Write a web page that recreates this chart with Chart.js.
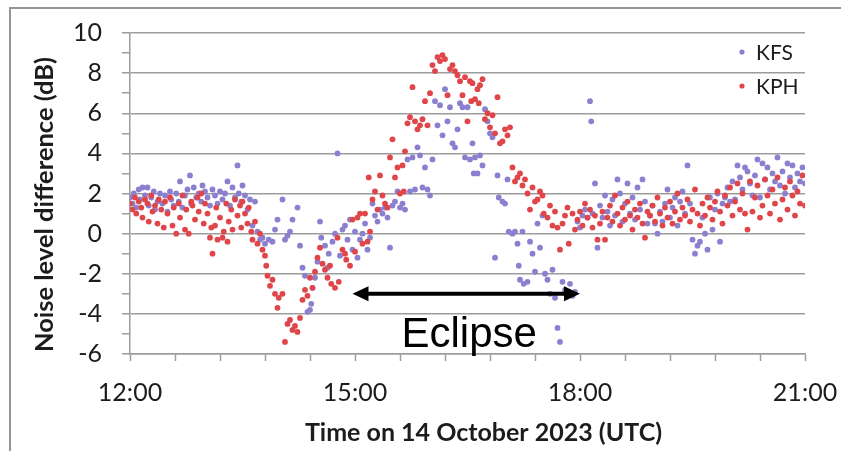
<!DOCTYPE html>
<html>

<head>
    <meta charset="UTF-8">
    <title>Noise level difference</title>
    <style>
        html, body {
            margin: 0;
            padding: 0;
            background: #fff;
        }
    </style>
</head>

<body>
    <canvas id="noiseChart" width="841" height="451"></canvas>
    <script src="https://cdn.jsdelivr.net/npm/chart.js"></script>

    <script>
        // [minutes after 12:00 UTC, noise level difference in dB]
        const kfsPoints = [
            [0, 1.8], [2, 1.5], [3, 2.0], [5, 1.3], [7, 2.2], [8, 1.7], [10, 2.3], [12, 1.9], [14, 2.3], [15, 1.4],
            [17, 1.8], [19, 2.1], [20, 1.2], [22, 1.6], [24, 2.0], [26, 1.5], [28, 1.9], [30, 1.1], [32, 2.1], [33, 1.7],
            [35, 1.4], [37, 2.0], [39, 1.6], [40, 2.6], [42, 1.3], [44, 1.9], [46, 2.2], [48, 2.9], [49, 1.5], [51, 2.3],
            [53, 1.8], [55, 2.0], [57, 1.6], [58, 2.4], [60, 2.1], [62, 1.8], [64, 1.4], [66, 2.2], [68, 1.9], [70, 1.5],
            [72, 2.1], [74, 1.7], [76, 2.0], [78, 2.6], [80, 1.4], [82, 2.3], [84, 1.8], [86, 3.4], [87, 2.0], [89, 1.6],
            [90, 2.4], [92, 1.9], [94, 1.2], [96, 1.7], [98, 0.4], [100, 1.6], [102, 0.1], [104, -0.3], [106, -0.2], [108, -0.5],
            [111, -0.3], [114, -0.4], [116, 0.2], [118, 0.7], [122, 1.7], [124, -0.3], [126, -0.1], [128, 0.1], [130, 0.7], [134, 1.3],
            [136, -0.6], [138, -1.7], [140, -2.1], [142, -3.9], [144, -3.8], [145, -3.5], [146, -2.7], [148, -2.2], [150, -1.4], [152, 0.6],
            [153, -0.2], [156, -0.6], [158, -1.7], [159, -1.0], [162, -0.4], [164, 0.0], [166, 4.0], [168, -1.1], [170, 0.2], [172, 0.4],
            [174, -0.3], [176, 0.7], [178, -0.8], [180, 0.1], [182, -1.2], [184, -0.3], [186, 0.0], [188, 0.5], [190, -0.8], [192, -0.2],
            [194, 1.5], [196, 0.9], [198, 0.6], [200, 1.2], [202, 1.0], [204, 1.3], [206, 0.8], [208, -0.7], [210, 1.4], [212, 1.6],
            [214, 2.1], [216, 1.3], [218, 1.5], [220, 1.2], [222, 3.7], [224, 2.1], [226, 3.8], [228, 2.2], [230, 4.3], [232, 3.9],
            [234, 2.3], [236, 3.3], [238, 2.2], [240, 1.9], [242, 3.7], [244, 6.6], [246, 5.4], [248, 6.4], [250, 4.9], [252, 7.2],
            [254, 5.6], [256, 6.3], [258, 4.5], [260, 4.3], [262, 5.2], [264, 6.5], [266, 6.3], [268, 3.8], [270, 6.3], [272, 3.7],
            [274, 4.5], [275, 3.0], [276, 3.8], [278, 3.0], [280, 3.9], [282, 3.4], [284, 6.2], [286, 5.6], [288, 5.0], [290, 4.8],
            [292, -1.2], [294, 2.9], [295, 1.8], [298, 1.6], [300, 1.5], [302, 2.7], [303, 0.1], [306, 0.0], [308, 0.1], [310, -0.5],
            [311, -1.6], [312, -2.3], [314, 0.1], [315, -2.5], [318, -2.4], [320, -0.4], [322, -1.0], [324, -1.9], [326, 0.5], [328, -0.7],
            [330, 0.9], [332, -2.0], [334, -2.3], [336, -3.0], [338, -1.8], [340, -3.2], [342, -4.7], [344, -5.4], [346, -2.4], [348, -2.8],
            [350, -3.1], [352, -2.5], [354, -3.1], [356, -2.9], [358, 0.6], [360, 0.3], [362, 0.9], [364, 1.2], [366, 0.8], [368, 6.6],
            [369, 5.6], [370, 1.0], [372, 2.5], [374, -0.7], [376, 1.4], [378, 0.8], [380, 1.9], [382, 1.1], [384, 0.4], [386, 1.7],
            [388, 0.9], [390, 2.7], [392, 2.0], [394, 0.6], [396, 1.5], [398, 2.5], [400, 1.0], [402, 1.8], [404, 0.7], [406, 2.3],
            [408, 1.2], [410, 2.7], [412, 1.6], [414, 0.5], [416, 0.9], [418, 1.4], [420, 0.5], [422, 0.0], [424, 1.1], [426, 0.6],
            [428, 1.5], [430, 2.2], [432, 0.8], [434, 1.3], [436, 1.8], [438, 0.4], [440, 1.6], [442, 2.1], [444, 1.0], [446, 3.4],
            [448, 1.5], [450, -0.3], [452, -1.0], [454, -0.6], [456, -0.4], [458, 0.8], [460, 0.0], [462, -0.8], [464, 1.8], [466, 0.2],
            [468, 1.2], [470, 2.0], [472, -0.4], [474, 1.5], [476, 1.8], [478, 2.3], [480, 1.6], [482, 2.6], [484, 1.7], [486, 3.4],
            [488, 2.8], [490, 2.2], [492, 3.3], [494, 3.1], [496, 2.5], [498, 1.9], [500, 2.9], [502, 3.7], [504, 1.8], [506, 3.5],
            [508, 2.7], [510, 3.3], [512, 2.2], [514, 3.0], [516, 2.6], [518, 3.8], [520, 2.4], [522, 3.1], [524, 2.0], [526, 3.5],
            [528, 2.8], [530, 3.4], [532, 2.3], [534, 3.0], [536, 2.6], [538, 3.3], [540, 2.5]
        ];

        const kphPoints = [
            [0, 1.5], [2, 1.2], [4, 1.8], [5, 1.0], [7, 1.6], [9, 1.3], [10, 0.8], [12, 1.7], [14, 1.5], [15, 0.6],
            [17, 1.9], [18, 1.1], [20, 1.4], [22, 0.5], [23, 1.7], [25, 1.2], [27, 0.3], [28, 1.6], [30, 1.0], [32, 1.8],
            [34, 0.4], [35, 1.3], [37, 0.0], [39, 1.5], [40, 0.8], [42, 1.9], [44, 0.2], [45, 1.2], [47, 0.0], [49, 1.6],
            [50, 1.4], [52, 0.7], [54, 1.8], [55, 1.1], [57, 2.0], [59, 0.5], [60, 1.5], [62, 1.0], [64, -0.2], [65, 0.3],
            [66, -1.0], [68, 0.4], [69, 1.3], [70, -0.3], [72, 0.8], [74, -0.2], [75, 0.1], [77, 1.5], [78, -0.4], [79, 0.6],
            [81, 1.2], [82, 0.2], [84, 1.7], [86, 0.9], [88, 1.4], [89, 0.3], [90, 1.6], [92, 1.0], [94, 0.5], [95, 1.3],
            [97, 0.1], [98, -0.3], [100, 0.6], [102, -0.5], [104, 0.0], [106, -0.8], [108, -1.1], [109, -1.6], [110, -2.1], [112, -2.6],
            [114, -2.3], [116, -3.0], [118, -3.7], [119, -3.2], [122, -3.0], [124, -5.4], [126, -4.5], [128, -4.3], [130, -4.8], [132, -4.6],
            [134, -4.9], [136, -4.2], [138, -3.3], [140, -2.8], [142, -3.1], [144, -2.2], [146, -2.7], [148, -1.9], [150, -1.2], [152, -0.7],
            [154, -1.5], [156, -1.8], [158, -2.2], [160, -1.6], [161, -2.5], [164, -2.7], [166, -0.2], [167, -2.4], [170, -0.8], [172, -1.0],
            [173, -1.3], [176, -1.6], [178, 0.7], [180, -0.9], [182, 0.8], [184, 1.0], [186, -0.5], [188, 1.0], [190, -0.4], [191, 2.8],
            [192, 0.1], [194, 1.7], [196, 2.1], [198, 1.2], [200, 2.9], [202, 1.9], [204, 1.5], [206, 1.3], [208, 3.8], [210, 4.7],
            [212, 2.8], [214, 3.3], [216, 2.0], [218, 3.4], [219, 2.1], [220, 4.1], [222, 5.5], [224, 5.8], [226, 7.3], [228, 5.6],
            [230, 5.2], [232, 5.4], [234, 5.7], [236, 6.6], [238, 5.4], [240, 7.0], [242, 8.4], [244, 8.1], [246, 8.8], [248, 8.6],
            [250, 8.9], [252, 8.7], [254, 6.9], [256, 8.2], [258, 8.4], [260, 8.1], [262, 7.9], [264, 7.6], [266, 6.9], [268, 7.8],
            [270, 5.6], [272, 7.6], [273, 6.6], [274, 7.5], [276, 6.7], [278, 7.2], [279, 6.5], [280, 7.4], [282, 7.7], [284, 5.7],
            [286, 6.0], [288, 5.3], [290, 5.9], [292, 5.0], [294, 6.8], [296, 4.5], [298, 4.6], [300, 5.2], [302, 4.9], [304, 5.3],
            [306, 3.3], [308, 2.6], [310, 2.8], [312, 3.0], [314, 2.4], [316, 2.7], [318, 2.0], [320, 1.2], [322, 2.3], [324, 1.6],
            [326, 1.7], [328, 2.1], [330, 1.9], [331, 1.0], [334, 0.8], [336, 1.4], [338, 0.4], [340, 1.1], [342, 0.3], [344, -0.8],
            [346, 0.5], [348, 0.9], [350, 1.3], [351, -0.5], [354, 1.0], [356, 0.2], [358, 0.7], [360, 1.1], [362, 0.4], [364, 1.5],
            [366, 0.8], [368, 1.2], [370, 0.3], [372, 0.9], [374, -0.3], [376, 0.5], [378, 1.1], [380, -0.3], [382, 0.8], [384, 1.4],
            [386, 0.6], [388, 1.9], [390, 1.0], [392, 0.4], [394, 1.3], [396, 0.7], [398, 1.6], [400, 0.9], [402, 0.2], [404, 1.2],
            [406, 0.8], [408, 1.5], [410, 0.5], [412, -0.2], [414, 1.1], [416, 0.9], [418, 1.4], [420, 0.6], [422, 1.8], [424, 1.0],
            [426, 0.4], [428, 1.3], [430, 0.8], [432, 1.6], [434, 0.5], [436, 1.1], [438, 2.0], [440, 0.7], [442, 1.3], [444, 0.9],
            [446, 1.7], [448, 0.6], [450, 1.2], [452, 2.2], [454, 1.0], [456, 0.4], [458, 1.5], [460, 0.9], [462, 1.8], [464, 1.3],
            [466, 0.7], [468, 1.6], [470, 2.1], [472, 1.1], [474, 0.5], [476, 1.9], [478, 1.4], [480, 2.3], [482, 0.9], [484, 1.6],
            [486, 2.5], [488, 1.2], [490, 2.0], [492, 1.0], [494, 0.2], [496, 2.6], [498, 1.1], [500, 1.8], [502, 2.4], [504, 0.8],
            [506, 1.4], [508, 2.7], [510, 1.9], [512, 1.0], [514, 2.2], [516, 1.5], [518, 2.8], [520, 0.7], [522, 1.7], [524, 2.3],
            [526, 1.2], [528, 2.6], [530, 1.9], [532, 0.9], [534, 2.1], [536, 1.5], [538, 2.9], [540, 1.4]
        ];

        const seriesNames = ["KFS", "KPH"];
        const seriesColors = ["#8a80cf", "#df4549"];
        const xTickLabels = ["12:00", "15:00", "18:00", "21:00"];
        const xTitle = "Time on 14 October 2023 (UTC)";
        const yTitle = "Noise level difference (dB)";

        // eclipse span (minutes after 12:00) and the level the arrow sits at
        const eclipseSpan = [178, 360];
        const eclipseLevel = -3.0;

        const gridColor = "#9c9c9c";
        const textColor = "#1c1c1c";
        const tickFont = { family: "Lato", size: 25 };

        const extras = {
            id: "extras",
            beforeDraw(chart) {
                const ctx = chart.ctx;
                ctx.save();
                ctx.fillStyle = "#fff";
                ctx.fillRect(0, 0, chart.width, chart.height);
                ctx.restore();
            },
            afterDraw(chart) {
                const { ctx, chartArea, scales } = chart;
                ctx.save();

                // frame around the figure
                ctx.strokeStyle = "#959595";
                ctx.lineWidth = 2;
                ctx.beginPath();
                ctx.moveTo(10, chart.height);
                ctx.lineTo(10, 8);
                ctx.lineTo(chart.width, 8);
                ctx.stroke();

                // axis titles
                ctx.fillStyle = textColor;
                ctx.textAlign = "center";
                ctx.textBaseline = "middle";
                ctx.font = "bold 25px Lato";
                ctx.fillText(xTitle, (chartArea.left + chartArea.right) / 2 + 16, 433);
                ctx.font = "bold 25.5px Lato";
                ctx.save();
                ctx.translate(45, (chartArea.top + chartArea.bottom) / 2 + 11);
                ctx.rotate(-Math.PI / 2);
                ctx.fillText(yTitle, 0, 0);
                ctx.restore();

                // legend, top right
                ctx.font = "21px Lato";
                ctx.textAlign = "left";
                seriesNames.forEach((name, i) => {
                    const ly = 53 + i * 34;
                    ctx.fillStyle = seriesColors[i];
                    ctx.beginPath();
                    ctx.arc(742, ly - 1, 2.6, 0, Math.PI * 2);
                    ctx.fill();
                    ctx.fillStyle = textColor;
                    ctx.fillText(name, 756, ly);
                });

                // eclipse arrow
                const x0 = scales.x.getPixelForValue(eclipseSpan[0]);
                const x1 = scales.x.getPixelForValue(eclipseSpan[1]);
                const ay = scales.y.getPixelForValue(eclipseLevel);
                const head = 16;
                ctx.strokeStyle = "#000";
                ctx.fillStyle = "#000";
                ctx.lineWidth = 4;
                ctx.beginPath();
                ctx.moveTo(x0 + head - 2, ay);
                ctx.lineTo(x1 - head + 2, ay);
                ctx.stroke();
                ctx.beginPath();
                ctx.moveTo(x0, ay);
                ctx.lineTo(x0 + head, ay - 7.5);
                ctx.lineTo(x0 + head, ay + 7.5);
                ctx.closePath();
                ctx.fill();
                ctx.beginPath();
                ctx.moveTo(x1, ay);
                ctx.lineTo(x1 - head, ay - 7.5);
                ctx.lineTo(x1 - head, ay + 7.5);
                ctx.closePath();
                ctx.fill();

                ctx.font = "42px 'Liberation Sans'";
                ctx.textBaseline = "alphabetic";
                ctx.fillText("Eclipse", x0 + 49, ay + 53);

                ctx.restore();
            }
        };

        new Chart(document.getElementById("noiseChart"), {
            type: "scatter",
            data: {
                datasets: [
                    {
                        label: seriesNames[0],
                        data: kfsPoints.map(([x, y]) => ({ x, y })),
                        backgroundColor: seriesColors[0],
                        borderWidth: 0,
                        pointRadius: 2.9,
                        order: 2
                    },
                    {
                        label: seriesNames[1],
                        data: kphPoints.map(([x, y]) => ({ x, y })),
                        backgroundColor: seriesColors[1],
                        borderWidth: 0,
                        pointRadius: 2.9,
                        order: 1
                    }
                ]
            },
            options: {
                responsive: false,
                animation: false,
                layout: {
                    padding: { top: 33, right: 36, bottom: 0, left: 0 }
                },
                plugins: {
                    legend: { display: false },
                    tooltip: { enabled: false }
                },
                scales: {
                    x: {
                        type: "linear",
                        min: 0,
                        max: 540,
                        afterFit: (scale) => {
                            scale.height = 97;
                            scale.paddingLeft = 0;
                            scale.paddingRight = 0;
                        },
                        ticks: {
                            stepSize: 36,
                            autoSkip: false,
                            maxRotation: 0,
                            padding: 17,
                            color: textColor,
                            font: tickFont,
                            callback: (v) => (v % 180 === 0 ? xTickLabels[v / 180] : "")
                        },
                        grid: {
                            drawOnChartArea: false,
                            tickLength: 7,
                            tickColor: gridColor,
                            tickWidth: 1.5
                        },
                        border: { color: gridColor, width: 1.5 }
                    },
                    y: {
                        min: -6,
                        max: 10,
                        afterFit: (scale) => {
                            scale.width = 130;
                            scale.paddingTop = 0;
                            scale.paddingBottom = 0;
                        },
                        ticks: {
                            stepSize: 1,
                            autoSkip: false,
                            padding: 20,
                            color: textColor,
                            font: tickFont,
                            callback: (v) => (v % 2 === 0 ? String(v) : "")
                        },
                        grid: {
                            color: (c) => (c.tick && c.tick.value % 2 !== 0 ? "rgba(0,0,0,0)" : gridColor),
                            lineWidth: 1.5,
                            tickLength: 8,
                            tickColor: gridColor,
                            tickWidth: 1.5
                        },
                        border: { color: gridColor, width: 1.5 }
                    }
                }
            },
            plugins: [extras]
        });
    </script>
</body>

</html>
